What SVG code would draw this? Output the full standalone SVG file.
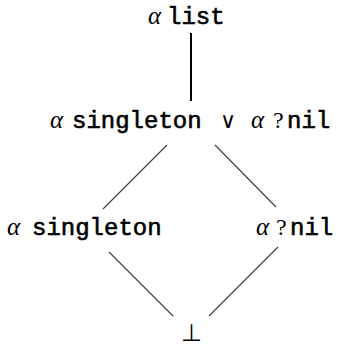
<svg xmlns="http://www.w3.org/2000/svg" width="339" height="346" viewBox="0 0 339 346">
<style>
.a{font-family:"Liberation Serif","DejaVu Serif",serif;font-style:italic;font-size:25px;fill:#000}
.q{font-family:"Liberation Serif","DejaVu Serif",serif;font-size:24px;fill:#000}
.t{font-family:"Liberation Mono","DejaVu Sans Mono",monospace;font-size:24px;fill:#000;stroke:#000;stroke-width:0.6}
.s{font-family:"DejaVu Sans",sans-serif;font-weight:200;font-size:22px;fill:#000}
.e{stroke:#3a3a3a;stroke-width:1.1;fill:none}
</style>
<rect width="339" height="346" fill="#fff"/>
<g id="connectors">
<line x1="191" y1="33" x2="191" y2="101" stroke="#000" stroke-width="2"/>
<line class="e" x1="167" y1="145" x2="103" y2="209"/>
<line class="e" x1="215" y1="145" x2="276" y2="207"/>
<line class="e" x1="109" y1="252" x2="173" y2="316"/>
<line class="e" x1="278" y1="247" x2="209" y2="316"/>
</g>
<g id="n-list">
<text class="a" x="148" y="24">α</text><text class="t" x="167" y="24">list</text>
</g>
<g id="n-join">
<text class="a" x="50" y="128">α</text><text class="t" x="72" y="128">singleton</text>
<text class="s" x="220" y="128">∨</text>
<text class="a" x="251" y="128">α</text><text class="q" x="273" y="128">?</text><text class="t" x="287" y="128">nil</text>
</g>
<g id="n-singleton">
<text class="a" x="7" y="235">α</text><text class="t" x="32" y="235">singleton</text>
</g>
<g id="n-nil">
<text class="a" x="256" y="235">α</text><text class="q" x="276" y="235">?</text><text class="t" x="290" y="235">nil</text>
</g>
<g id="n-bottom">
<text x="191" y="341" text-anchor="middle" style="font-family:'DejaVu Sans',sans-serif;font-weight:200;font-size:24px">⊥</text>
</g>
</svg>
